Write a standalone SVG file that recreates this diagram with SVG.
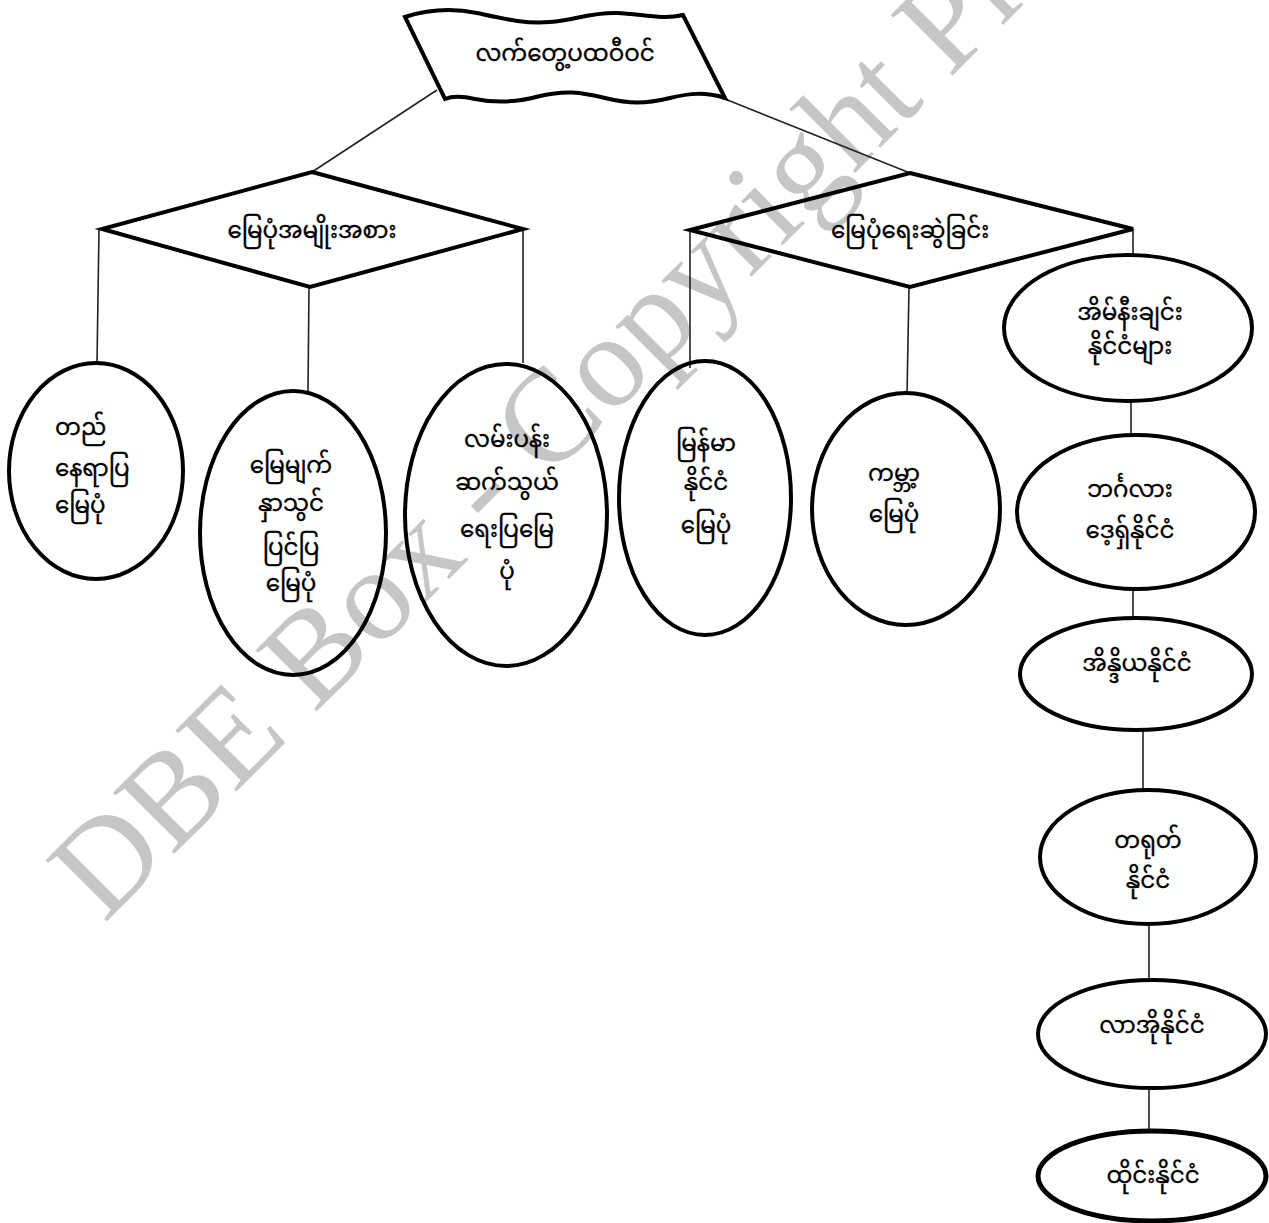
<svg xmlns="http://www.w3.org/2000/svg" width="1269" height="1223" viewBox="0 0 1269 1223">
<style>
.shape{fill:none;stroke:#000;stroke-width:4}
.thick{stroke-width:5}
.conn{stroke:#222;stroke-width:1.6;fill:none}
.t{font-family:"Noto Sans Myanmar","Padauk","Myanmar Text","Myanmar3","Noto Sans",sans-serif;font-size:23px;fill:#000;stroke:#000;stroke-width:0.35;text-anchor:middle}
.ts{text-anchor:start}
.wm{font-family:"Liberation Serif","Times New Roman",serif;font-size:132px;fill:#c6c6c6}
</style>
<rect width="1269" height="1223" fill="#fff"/>
<text class="wm" x="104" y="924" transform="rotate(-45 104 924)">DBE Box - Copyright Pr</text>
<g id="connectors">
<line class="conn" x1="437" y1="90" x2="312" y2="172"/>
<line class="conn" x1="725" y1="99" x2="910" y2="173"/>
<line class="conn" x1="99" y1="229" x2="97" y2="363"/>
<line class="conn" x1="309" y1="287" x2="308" y2="392"/>
<line class="conn" x1="523" y1="229" x2="523" y2="363"/>
<line class="conn" x1="690" y1="230" x2="690" y2="368"/>
<line class="conn" x1="909" y1="287" x2="907" y2="395"/>
<line class="conn" x1="1133" y1="229" x2="1133" y2="256"/>
<line class="conn" x1="1131" y1="401" x2="1131" y2="436"/>
<line class="conn" x1="1133" y1="589" x2="1133" y2="618"/>
<line class="conn" x1="1143" y1="730" x2="1143" y2="790"/>
<line class="conn" x1="1149" y1="924" x2="1149" y2="980"/>
<line class="conn" x1="1149" y1="1088" x2="1149" y2="1130"/>
</g>
<g id="root">
<path class="shape" d="M405,17 C430,9 452,8 477,13 C505,19 525,24 550,22 C575,20 592,12 617,13 C642,14 662,20 683,15 L725,98 C705,92 690,93 670,98 C645,104 630,104 605,98 C580,92 565,90 540,96 C515,103 495,103 475,99 C462,96 452,96 445,99 Z"/>
<text class="t" x="565" y="61">လက်တွေ့ပထဝီဝင်</text>
</g>
<g id="types">
<polygon class="shape" points="312,172 523,229 310,287 102,229"/>
<text class="t" x="312" y="238">မြေပုံအမျိုးအစား</text>
</g>
<g id="drawing">
<polygon class="shape" points="910,173 1133,229 910,287 690,230"/>
<text class="t" x="910" y="238">မြေပုံရေးဆွဲခြင်း</text>
</g>
<g id="topo">
<ellipse class="shape" cx="96" cy="471" rx="87" ry="108"/>
<text class="t ts"><tspan x="55" y="435">တည်</tspan><tspan x="55" y="476">နေရာပြ</tspan><tspan x="55" y="513">မြေပုံ</tspan></text>
</g>
<g id="relief">
<ellipse class="shape" cx="293" cy="533" rx="93" ry="142"/>
<text class="t"><tspan x="291" y="473">မြေမျက်</tspan><tspan x="291" y="511">နှာသွင်</tspan><tspan x="291" y="555">ပြင်ပြ</tspan><tspan x="291" y="591">မြေပုံ</tspan></text>
</g>
<g id="transport">
<ellipse class="shape" cx="506" cy="515" rx="101" ry="151"/>
<text class="t"><tspan x="507" y="447">လမ်းပန်း</tspan><tspan x="507" y="490">ဆက်သွယ်</tspan><tspan x="507" y="537">ရေးပြမြေ</tspan><tspan x="507" y="579">ပုံ</tspan></text>
</g>
<g id="myanmar">
<ellipse class="shape" cx="705" cy="498" rx="86" ry="137"/>
<text class="t"><tspan x="706" y="451">မြန်မာ</tspan><tspan x="706" y="490">နိုင်ငံ</tspan><tspan x="706" y="533">မြေပုံ</tspan></text>
</g>
<g id="world">
<ellipse class="shape" cx="906" cy="509" rx="94" ry="116"/>
<text class="t"><tspan x="894" y="481">ကမ္ဘာ့</tspan><tspan x="894" y="522">မြေပုံ</tspan></text>
</g>
<g id="neighbours">
<ellipse class="shape" cx="1128" cy="328" rx="124" ry="73"/>
<text class="t"><tspan x="1130" y="320">အိမ်နီးချင်း</tspan><tspan x="1130" y="354">နိုင်ငံများ</tspan></text>
</g>
<g id="bangladesh">
<ellipse class="shape" cx="1136" cy="512" rx="119" ry="77"/>
<text class="t"><tspan x="1130" y="497">ဘင်္ဂလား</tspan><tspan x="1130" y="538">ဒေ့ရှ်နိုင်ငံ</tspan></text>
</g>
<g id="india">
<ellipse class="shape" cx="1136" cy="674" rx="116" ry="56"/>
<text class="t" x="1137" y="671">အိန္ဒိယနိုင်ငံ</text>
</g>
<g id="china">
<ellipse class="shape" cx="1148" cy="857" rx="108" ry="67"/>
<text class="t"><tspan x="1148" y="848">တရုတ်</tspan><tspan x="1148" y="888">နိုင်ငံ</tspan></text>
</g>
<g id="laos">
<ellipse class="shape" cx="1152" cy="1034" rx="114" ry="54"/>
<text class="t" x="1152" y="1033">လာအိုနိုင်ငံ</text>
</g>
<g id="thailand">
<ellipse class="shape thick" cx="1152" cy="1176" rx="114" ry="45"/>
<text class="t" x="1153" y="1183">ထိုင်းနိုင်ငံ</text>
</g>
</svg>
